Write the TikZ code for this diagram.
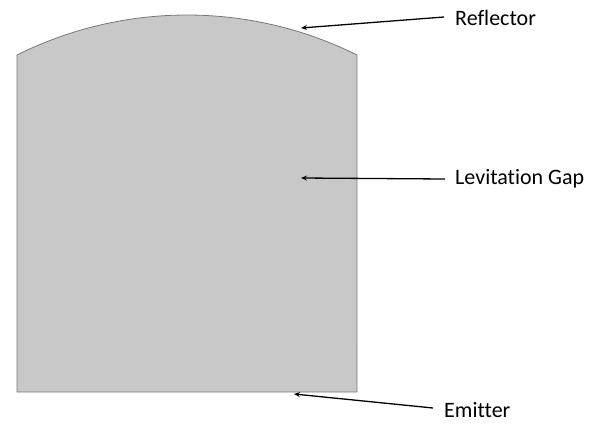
\documentclass[tikz,border=0pt]{standalone}
\usepackage{fontspec}
\setmainfont[Ligatures={NoCommon}]{Carlito}
\usetikzlibrary{arrows.meta}
\definecolor{gapfill}{RGB}{200,200,200}
\definecolor{gapline}{RGB}{120,120,120}
\begin{document}
\begin{tikzpicture}[x=1pt,y=-1pt,
  lbl/.style={anchor=west,inner sep=0pt,font=\fontsize{22}{24}\selectfont},
  pointer/.style={line width=1.3pt,-{Stealth[length=6pt,width=5pt]}}]
\useasboundingbox (0,0) rectangle (597,423);
% body
\draw[fill=gapfill,draw=gapline,line width=0.8pt]
  (17,392) -- (17,55) arc[start angle=116.48,end angle=63.52,radius=381.25pt] -- (357,392) -- cycle;
% targets
\coordinate (reftip) at (301,28);
\coordinate (gaptip) at (301,178);
\coordinate (emtip) at (294,394);
% labels
\node[lbl] (ref) at (455,18) {Reflector};
\node[lbl] (gap) at (455,179) {Levitation Gap};
\node[lbl] (em) at (444,410) {Emitter};
% pointers
\draw[pointer] ([xshift=-11pt,yshift=1pt]ref.west) -- (reftip);
\draw[pointer] ([xshift=-10pt]gap.west) -- (gaptip);
\draw[pointer] ([xshift=-11pt,yshift=2pt]em.west) -- (emtip);
\end{tikzpicture}
\end{document}
